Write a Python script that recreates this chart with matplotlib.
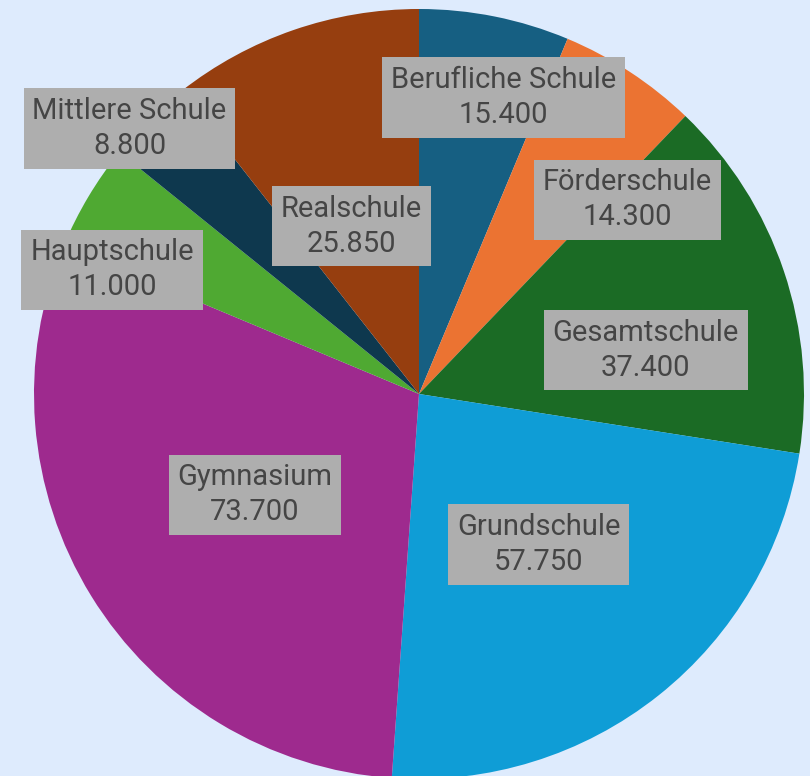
import numpy as np
import matplotlib.pyplot as plt

# Schülerzahlen nach Schulart
schularten = ['Berufliche Schule', 'Förderschule', 'Gesamtschule', 'Grundschule',
              'Gymnasium', 'Hauptschule', 'Mittlere Schule', 'Realschule']
werte = [15.400, 14.300, 37.400, 57.750, 73.700, 11.000, 8.800, 25.850]
werte_text = ['15.400', '14.300', '37.400', '57.750', '73.700', '11.000', '8.800', '25.850']

farben = ['#165f82', '#eb7332', '#1b6b25', '#0f9dd6', '#9e2a8e', '#4fa932', '#0e384e', '#963e0f']

# Label-Versatz: (Winkelverschiebung in Grad, Radius-Anteil)
label_lage = [(4.5, 0.80), (13.8, 0.74), (7.7, 0.60), (0, 0.50),
              (0, 0.50), (-8.8, 0.86), (-2.9, 1.02), (-2.9, 0.47)]

plt.rcParams['font.family'] = ['Roboto', 'DejaVu Sans']

W, H = 810, 776
cx, cy, R = 419, 394, 385

fig = plt.figure(figsize=(W / 100, H / 100), dpi=100, facecolor='#deebfd')
ax = fig.add_axes([0, 0, 1, 1])
ax.set_facecolor('#deebfd')

wedges, _ = ax.pie(werte, colors=farben, startangle=90, counterclock=False,
                   radius=1.0, wedgeprops=dict(linewidth=0))

ax.set_xlim(-cx / R, (W - cx) / R)
ax.set_ylim(-(H - cy) / R, cy / R)
ax.set_aspect('auto')
ax.axis('off')

for w, name, txt, (dwink, rf) in zip(wedges, schularten, werte_text, label_lage):
    mitte = (w.theta1 + w.theta2) / 2 - dwink
    a = np.radians(mitte)
    ax.text(rf * np.cos(a), rf * np.sin(a), name + '\n' + txt,
            ha='center', va='center', fontsize=21, color='#454545',
            linespacing=1.32,
            bbox=dict(boxstyle='square,pad=0.3', fc='#aeaeae', ec='none'))

plt.savefig('out.png', dpi=100, facecolor=fig.get_facecolor())
